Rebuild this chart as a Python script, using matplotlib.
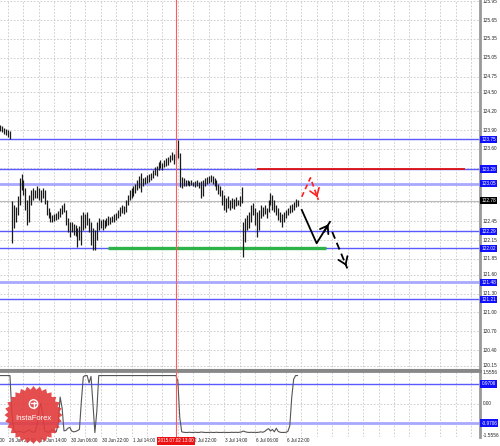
import numpy as np
import matplotlib
matplotlib.use("Agg")
import matplotlib.pyplot as plt
from matplotlib.patches import Polygon, Circle

plt.rcParams['font.family'] = ['Liberation Sans', 'DejaVu Sans']

# USDJPY H1 bars, index 0 = 26 Jun 2015 18:00 (trading hours only)
highs = [123.98, 123.96, 123.93, 123.92, 123.90, 123.88,
         122.77, 122.71, 122.68, 122.85, 123.14, 123.20, 123.11, 122.98, 122.79, 122.87,
         122.95, 122.98, 122.95, 123.01, 122.98, 122.95, 122.98, 122.95, 122.79, 122.66,
         122.60, 122.55, 122.57, 122.58, 122.61, 122.66, 122.71, 122.74, 122.63, 122.50,
         122.44, 122.44, 122.41, 122.39, 122.34, 122.37, 122.55, 122.60, 122.57, 122.60,
         122.50, 122.44, 122.34, 122.31, 122.44, 122.50, 122.47, 122.49, 122.47, 122.50,
         122.53, 122.52, 122.53, 122.57, 122.58, 122.63, 122.68, 122.71, 122.69, 122.79,
         122.87, 122.95, 122.98, 123.01, 123.04, 123.11, 123.17, 123.22, 123.14, 123.15,
         123.19, 123.20, 123.22, 123.27, 123.31, 123.33, 123.39, 123.42, 123.38, 123.42,
         123.46, 123.47, 123.50, 123.55, 123.52, 123.58, 123.74, 123.54, 123.15, 123.14,
         123.11, 123.11, 123.09, 123.11, 123.07, 123.09, 123.11, 123.07, 123.09, 123.11,
         123.14, 123.15, 123.17, 123.19, 123.17, 123.14, 123.11, 123.04, 123.01, 122.95,
         122.87, 122.82, 122.85, 122.79, 122.82, 122.80, 122.84, 122.79, 122.85, 123.00,
         122.44, 122.50, 122.55, 122.60, 122.71, 122.74, 122.66, 122.60, 122.63, 122.71,
         122.68, 122.71, 122.66, 122.79, 122.90, 122.87, 122.79, 122.71, 122.66, 122.60,
         122.57, 122.60, 122.63, 122.66, 122.71, 122.73, 122.76, 122.80, 122.79]
lows = [123.88, 123.87, 123.84, 123.82, 123.79, 123.76,
        122.10, 122.34, 122.44, 122.55, 122.71, 122.95, 122.87, 122.63, 122.39, 122.44,
        122.71, 122.79, 122.82, 122.82, 122.79, 122.76, 122.82, 122.73, 122.55, 122.50,
        122.44, 122.44, 122.45, 122.47, 122.49, 122.52, 122.57, 122.60, 122.39, 122.28,
        122.20, 122.28, 122.23, 122.22, 122.04, 122.15, 122.07, 122.31, 122.34, 122.39,
        122.28, 122.07, 121.99, 121.99, 122.15, 122.31, 122.34, 122.31, 122.34, 122.37,
        122.39, 122.41, 122.44, 122.44, 122.47, 122.50, 122.53, 122.58, 122.57, 122.60,
        122.71, 122.79, 122.82, 122.85, 122.90, 122.95, 122.98, 122.92, 123.01, 123.04,
        123.06, 123.07, 123.11, 123.14, 123.19, 123.17, 123.27, 123.30, 123.27, 123.31,
        123.33, 123.34, 123.39, 123.42, 123.36, 123.42, 123.46, 123.00, 122.98, 123.01,
        123.01, 123.03, 123.01, 123.03, 123.01, 123.00, 123.01, 122.98, 122.82, 122.85,
        123.01, 123.04, 123.06, 123.07, 123.04, 123.01, 122.95, 122.88, 122.85, 122.71,
        122.63, 122.60, 122.66, 122.63, 122.66, 122.64, 122.69, 122.71, 122.69, 122.74,
        121.88, 122.12, 122.31, 122.34, 122.44, 122.55, 122.39, 122.20, 122.31, 122.50,
        122.53, 122.57, 122.50, 122.60, 122.71, 122.63, 122.60, 122.55, 122.47, 122.44,
        122.36, 122.44, 122.50, 122.55, 122.58, 122.60, 122.63, 122.68, 122.69]

# oscillator in the lower window
osc = ([1.38] * 6 +
       [-0.50, -1.30, -1.42, -1.40, -1.38, -1.40, -1.43, -1.40, -1.35, -1.30,
        -1.38, -1.42, -1.40, -1.10, -0.30, 0.00, -0.55, -1.35, -1.40, -1.42,
        -1.38, -1.30, -1.36, -1.40, -1.00, 0.32, -0.20, -1.35, -1.33, -1.22,
        -1.18, -1.36, -1.40, -1.38, -1.34, -1.28, 0.10, 1.32, 1.38, 1.38,
        1.02, 1.34, 0.00, -1.44, -0.40, 1.38] +
       [1.38] * 40 +
       [1.10, -0.70, -1.40,
        -1.42, -1.43, -1.43, -1.42, -1.43, -1.43, -1.42, -1.43, -1.43, -1.41,
        -1.42, -1.43, -1.43, -1.43, -1.42, -1.43, -1.43, -1.42, -1.43, -1.43,
        -1.43, -1.42, -1.43, -1.43, -1.43, -1.42, -1.43, -1.42, -1.43, -1.42,
        -1.40, -1.36, -1.40, -1.42, -1.43, -1.42, -1.43, -1.42, -1.43, -1.42,
        -1.40, -1.42, -1.38, -1.30, -1.24, -1.36, -1.28, -1.40, -1.22, -1.38,
        -1.42, -1.43, -1.43, -1.42, -1.38, -1.10, 0.30, 1.20, 1.38, 1.38])

blue_levels = [123.75, 123.28, 122.29, 122.02, 121.21]
light_levels = [123.05, 121.48]
osc_levels = [0.9706, -0.9706]
red_level = 123.28
red_span = (133, 240.8)
green_level = 122.02
green_span = (55.8, 168.7)
last_price = 122.78
marker_bar = 91

price_ticks = [125.95, 125.65, 125.35, 125.05, 124.75, 124.50, 124.20, 123.90, 123.60,
               122.45, 122.15, 121.85, 121.60, 121.30, 121.00, 120.70, 120.40, 120.15]
hidden_grid = [123.30, 123.05, 122.75]
time_idx = [-12, 4, 20, 36, 52, 68, 100, 116, 132, 148]
time_labels = ['26 Jun 06:00', '26 Jun 22:00', '29 Jun 14:00', '30 Jun 06:00', '30 Jun 22:00',
               '1 Jul 14:00', '2 Jul 22:00', '3 Jul 14:00', '6 Jul 06:00', '6 Jul 22:00']

# forecast arrows
fc_black_x = [156.2, 163.9, 170.8]
fc_black_y = [122.63, 122.10, 122.44]
fc_dash_x = [172.0, 179.8]
fc_dash_y = [122.28, 121.70]
fc_red_x = [156.2, 160.7, 164.8]
fc_red_y = [122.84, 123.14, 122.79]

bars = np.arange(len(highs))
xlim = (-0.155, 248.55)

fig = plt.figure(figsize=(5, 4.46), dpi=100)
ax = fig.add_axes([0, 76 / 446, 480 / 500, 370 / 446])
ax2 = fig.add_axes([0, 9 / 446, 480 / 500, 66 / 446])

grid_kw = dict(color='#c8c8c8', lw=0.6, ls=(0, (2, 2)), zorder=0)
for a in (ax, ax2):
    a.set_xlim(*xlim)
    for v in range(-4, 249, 8):
        a.axvline(v, **grid_kw)
    a.set_xticks([])
    a.set_yticks([])
    for s in ('left', 'top', 'bottom'):
        a.spines[s].set_visible(False)
    a.spines['right'].set_color('#999999')
    a.spines['right'].set_linewidth(2)

# main window
ax.set_ylim(120.085, 125.968)
for p in price_ticks + hidden_grid:
    ax.axhline(p, **grid_kw)
ax.spines['bottom'].set_visible(True)
ax.spines['bottom'].set_color('#888888')
ax.spines['bottom'].set_linewidth(1.5)

ax.axhline(last_price, color='#bbbbbb', lw=0.8, zorder=1)
for lv in blue_levels:
    ax.axhline(lv, color='#5a5aff', lw=1.0, zorder=2)
for lv in light_levels:
    ax.axhline(lv, color='#a8a8ff', lw=2.0, zorder=2)
ax.hlines(red_level, *red_span, color='#e01010', lw=1.3, zorder=3)
ax.hlines(green_level, *green_span, color='#2db34a', lw=2.4, zorder=3)

ax.vlines(bars, lows, highs, color='#1a1a1a', lw=0.9, zorder=4)
ax.axvline(marker_bar, color='#ff5a5a', lw=0.8, zorder=5)
ax2.axvline(marker_bar, color='#ff5a5a', lw=0.8, zorder=5)

# forecast paths
ax.plot(fc_black_x, fc_black_y, color='black', lw=1.3, zorder=6)
ax.annotate('', xy=(fc_black_x[-1], fc_black_y[-1]), xytext=(fc_black_x[-2] + 3, fc_black_y[-2] + 0.14),
            arrowprops=dict(arrowstyle='->,head_length=0.5,head_width=0.35', color='black', lw=1.3))
ax.plot(fc_dash_x, fc_dash_y, color='black', lw=1.3, ls=(0, (4, 2.5)), zorder=6)
ax.annotate('', xy=(fc_dash_x[-1], fc_dash_y[-1]),
            xytext=(fc_dash_x[-1] - 1.5, fc_dash_y[-1] + 0.11),
            arrowprops=dict(arrowstyle='->,head_length=0.5,head_width=0.35', color='black', lw=1.3))
ax.plot(fc_red_x, fc_red_y, color='#ff2020', lw=1.2, ls=(0, (3, 2)), zorder=6)
ax.annotate('', xy=(fc_red_x[-1], fc_red_y[-1]),
            xytext=(fc_red_x[-1] - 1.2, fc_red_y[-1] + 0.1),
            arrowprops=dict(arrowstyle='->,head_length=0.5,head_width=0.35', color='#ff2020', lw=1.2))

ytr = ax.get_yaxis_transform()
for p in price_ticks:
    ax.text(1.006, p, f'{p:.2f}', transform=ytr, fontsize=3.4, va='center', ha='left',
            color='#222222', clip_on=False)
for lv in blue_levels + light_levels:
    ax.text(1.003, lv, f'{lv:.2f}', transform=ytr, fontsize=3.4, va='center', ha='left',
            color='white', clip_on=False, zorder=8,
            bbox=dict(boxstyle='square,pad=0.25', fc='#1010ff', ec='none'))
ax.text(1.003, last_price, f'{last_price:.2f}', transform=ytr, fontsize=3.4, va='center',
        ha='left', color='white', clip_on=False, zorder=8,
        bbox=dict(boxstyle='square,pad=0.25', fc='black', ec='none'))

# oscillator window
ax2.set_ylim(-1.654, 1.605)
ax2.axhline(0, **grid_kw)
ax2.spines['top'].set_visible(True)
ax2.spines['top'].set_color('#888888')
ax2.spines['top'].set_linewidth(2)
ax2.axhline(osc_levels[0], color='#5a5aff', lw=1.0, zorder=2)
ax2.axhline(osc_levels[1], color='#a8a8ff', lw=2.0, zorder=2)
ax2.plot(bars, osc, color='#555555', lw=0.8, zorder=4)

ytr2 = ax2.get_yaxis_transform()
for v in [1.5556, 0.0, -1.5556]:
    ax2.text(1.006, v, '0.00' if v == 0 else f'{v:.4f}', transform=ytr2, fontsize=3.4,
             va='center', ha='left', color='#222222', clip_on=False)
for v in osc_levels:
    ax2.text(1.003, v, f'{v:.4f}', transform=ytr2, fontsize=3.4, va='center', ha='left',
             color='white', clip_on=False, zorder=8,
             bbox=dict(boxstyle='square,pad=0.25', fc='#1010ff', ec='none'))

# time labels
xtr = ax2.get_xaxis_transform()
for i, lab in zip(time_idx, time_labels):
    ax2.text(i + 0.5, -0.06, lab, transform=xtr, fontsize=3.3, ha='left', va='center',
             color='#222222', clip_on=False)
ax2.text(marker_bar, -0.06, '2015.07.02 13:00', transform=xtr, fontsize=3.3, ha='center',
         va='center', color='white', clip_on=False, zorder=9,
         bbox=dict(boxstyle='square,pad=0.3', fc='#ee1111', ec='none'))

# InstaForex logo
ov = fig.add_axes([0, 0, 1, 1], zorder=20)
ov.set_xlim(0, 500)
ov.set_ylim(446, 0)
ov.axis('off')
ang = np.linspace(0, 2 * np.pi, 57)[:-1]
rad = np.where(np.arange(len(ang)) % 2 == 0, 29, 25.5)
ov.add_patch(Polygon(np.c_[33.5 + rad * np.cos(ang), 415 + rad * np.sin(ang)],
                     closed=True, fc='#e23b3b', ec='none', alpha=0.9))
ov.add_patch(Circle((33.5, 404), 4.2, fc='none', ec='white', lw=1.0))
ov.plot([33.5, 33.5], [402, 408], color='white', lw=1.0)
ov.plot([31.3, 35.7], [403, 403], color='white', lw=1.0)
ov.text(33.5, 418.5, 'InstaForex', color='white', fontsize=5.5, ha='center', va='center')

fig.savefig('out.png', dpi=100, facecolor='white')
